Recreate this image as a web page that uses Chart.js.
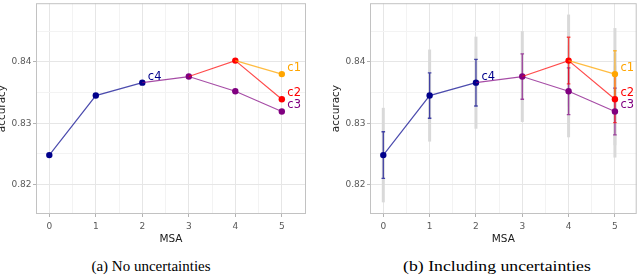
<!DOCTYPE html>
<html>
<head>
<meta charset="utf-8">
<script src="https://cdn.jsdelivr.net/npm/chart.js@4"></script>
<style>
  body { margin: 0; width: 640px; height: 276px; background: #fff; position: relative; overflow: hidden; }
  .panel { position: absolute; top: 0; height: 250px; }
  .cap { position: absolute; top: 258px; font: 15px "Liberation Serif", serif; color: #000; text-align: center; white-space: nowrap; }
</style>
</head>
<body>
<div class="panel" style="left:-14px;width:334px"><canvas id="left"></canvas></div>
<div class="panel" style="left:320px;width:320px"><canvas id="right"></canvas></div>
<div class="cap" style="left:0;width:302px">(a) No uncertainties</div>
<div class="cap" style="left:320px;width:354px;transform:scaleX(1.18);transform-origin:177px 0">(b) Including uncertainties</div>
<script>
// data
var msa = [0, 1, 2, 3, 4, 5];
var c4Acc = [0.8248, 0.8345, 0.8366, null, null, null];
var c3Acc = [null, null, 0.8366, 0.8376, 0.8352, 0.8319];
var c2Acc = [null, null, null, 0.8376, 0.8402, 0.8339];
var c1Acc = [null, null, null, null, 0.8402, 0.8380];

// uncertainties (half widths), coloured = inner, grey = outer
var c4Err = [0.0038, 0.0037, 0.0038, null, null, null];
var c3Err = [null, null, null, 0.0037, 0.0038, 0.0038];
var c2Err = [null, null, null, null, 0.0038, 0.0038];
var c1Err = [null, null, null, null, null, 0.0038];
var c4Wide = [0.0077, 0.0075, 0.0075, null, null, null];
var c3Wide = [null, null, null, 0.0074, 0.0075, 0.0075];
var c2Wide = [null, null, null, null, 0.0075, 0.0075];
var c1Wide = [null, null, null, null, null, 0.0075];

var xTicks = [0, 1, 2, 3, 4, 5];
var yTicks = [0.82, 0.83, 0.84];

var series = [
  { name: 'c1', acc: c1Acc, err: c1Err, wide: c1Wide, color: '#ffa500', line: 'rgba(255,165,0,0.75)', first: 4 },
  { name: 'c2', acc: c2Acc, err: c2Err, wide: c2Wide, color: '#ff0000', line: 'rgba(255,0,0,0.7)', first: 3 },
  { name: 'c3', acc: c3Acc, err: c3Err, wide: c3Wide, color: '#800080', line: 'rgba(128,0,128,0.7)', first: 2 },
  { name: 'c4', acc: c4Acc, err: c4Err, wide: c4Wide, color: '#00008b', line: 'rgba(0,0,139,0.7)', first: -1 }
];
// where the name labels sit
var labelAt = { c1: 5, c2: 5, c3: 5, c4: 2 };

function isMajor(v, step) {
  return Math.abs(v / step - Math.round(v / step)) < 1e-6;
}

// grey panel border
var frame = {
  id: 'frame',
  afterDraw(chart) {
    var a = chart.chartArea, ctx = chart.ctx;
    ctx.save();
    ctx.strokeStyle = '#c2c2c2';
    ctx.lineWidth = 1;
    ctx.strokeRect(a.left + 0.5, a.top + 0.5, a.right - a.left - 1, a.bottom - a.top - 1);
    ctx.restore();
  }
};

// error bars drawn under the lines
var errorBars = {
  id: 'errorBars',
  beforeDatasetsDraw(chart) {
    if (!chart.options.plugins.errorBars.show) return;
    var ctx = chart.ctx, xs = chart.scales.x, ys = chart.scales.y;
    ctx.save();
    // grey wide bars
    ctx.strokeStyle = '#d9d9d9';
    ctx.lineWidth = 3;
    series.forEach(function (s) {
      msa.forEach(function (m, i) {
        if (s.wide[i] == null) return;
        var x = xs.getPixelForValue(m);
        ctx.beginPath();
        ctx.moveTo(x, ys.getPixelForValue(s.acc[i] + s.wide[i]));
        ctx.lineTo(x, ys.getPixelForValue(s.acc[i] - s.wide[i]));
        ctx.stroke();
      });
    });
    // coloured bars with caps
    ctx.lineWidth = 1.3;
    series.slice().reverse().forEach(function (s) {
      ctx.strokeStyle = s.line;
      msa.forEach(function (m, i) {
        if (s.err[i] == null) return;
        var x = xs.getPixelForValue(m);
        var t = ys.getPixelForValue(s.acc[i] + s.err[i]);
        var b = ys.getPixelForValue(s.acc[i] - s.err[i]);
        ctx.beginPath();
        ctx.moveTo(x, t); ctx.lineTo(x, b);
        ctx.moveTo(x - 1.8, t); ctx.lineTo(x + 1.8, t);
        ctx.moveTo(x - 1.8, b); ctx.lineTo(x + 1.8, b);
        ctx.stroke();
      });
    });
    ctx.restore();
  }
};

// c1..c4 names next to the points
var names = {
  id: 'names',
  afterDatasetsDraw(chart) {
    var ctx = chart.ctx, xs = chart.scales.x, ys = chart.scales.y;
    ctx.save();
    ctx.font = '11.5px "DejaVu Sans"';
    ctx.textAlign = 'left';
    ctx.textBaseline = 'middle';
    series.forEach(function (s) {
      var i = labelAt[s.name];
      ctx.fillStyle = s.color;
      ctx.fillText(s.name, xs.getPixelForValue(msa[i]) + 5.5, ys.getPixelForValue(s.acc[i]) - 6);
    });
    ctx.restore();
  }
};

function makePanel(id, yWidth, xMin, xMax, padRight, showErr) {
  var datasets = series.map(function (s) {
    return {
      label: s.name,
      data: msa.map(function (m, i) { return { x: m, y: s.acc[i] }; }),
      borderColor: s.line,
      borderWidth: 1.2,
      backgroundColor: s.color,
      pointBackgroundColor: s.color,
      pointBorderWidth: 0,
      pointRadius: msa.map(function (m, i) { return i === s.first ? 0 : 3.2; }),
      pointHoverRadius: 3.2,
      tension: 0,
      spanGaps: false
    };
  });
  var tickFont = { family: 'DejaVu Sans', size: 9 };
  return new Chart(document.getElementById(id), {
    type: 'line',
    data: { datasets: datasets },
    options: {
      responsive: true,
      maintainAspectRatio: false,
      animation: false,
      events: [],
      layout: { padding: { left: 0, right: padRight, top: 1, bottom: 0 } },
      plugins: {
        legend: { display: false },
        tooltip: { enabled: false },
        errorBars: { show: showErr }
      },
      scales: {
        x: {
          type: 'linear',
          min: xMin,
          max: xMax,
          afterBuildTicks: function (sc) {
            var t = [];
            xTicks.forEach(function (v, i) {
              t.push({ value: v });
              if (i < xTicks.length - 1) t.push({ value: v + 0.5 });
            });
            sc.ticks = t;
          },
          afterFit: function (sc) { sc.height = 36; sc.paddingLeft = 0; sc.paddingRight = 0; },
          ticks: {
            autoSkip: false, maxRotation: 0, padding: 4, color: '#595959', font: tickFont,
            callback: function (v) { return isMajor(v, 1) ? String(v) : ''; }
          },
          grid: {
            color: function (c) { return isMajor(c.tick.value, 1) ? '#e6e6e6' : '#f3f3f3'; },
            tickColor: function (c) { return isMajor(c.tick.value, 1) ? '#b3b3b3' : 'rgba(0,0,0,0)'; },
            tickLength: 3,
            lineWidth: 1
          },
          border: { display: false },
          title: {
            display: true, text: 'MSA', color: '#1a1a1a',
            font: { family: 'DejaVu Sans', size: 10.5 }, padding: { top: 0, bottom: 4.5 }
          }
        },
        y: {
          type: 'linear',
          min: 0.8152,
          max: 0.84955,
          afterBuildTicks: function (sc) {
            var t = [];
            yTicks.forEach(function (v) {
              t.push({ value: v });
              t.push({ value: v + 0.005 });
            });
            sc.ticks = t;
          },
          afterFit: function (sc) { sc.width = yWidth; sc.paddingTop = 0; sc.paddingBottom = 0; },
          ticks: {
            autoSkip: false, padding: 1.5, color: '#595959', font: tickFont,
            callback: function (v) { return isMajor(v, 0.01) ? v.toFixed(2) : ''; }
          },
          grid: {
            color: function (c) { return isMajor(c.tick.value, 0.01) ? '#e6e6e6' : '#f3f3f3'; },
            tickColor: function (c) { return isMajor(c.tick.value, 0.01) ? '#b3b3b3' : 'rgba(0,0,0,0)'; },
            tickLength: 3,
            lineWidth: 1
          },
          border: { display: false },
          title: {
            display: true, text: 'accuracy', color: '#1a1a1a',
            font: { family: 'DejaVu Sans', size: 10.5 }, padding: { top: 10, bottom: 0 }
          }
        }
      }
    },
    plugins: [frame, errorBars, names]
  });
}

makePanel('left', 50, -0.286, 5.52, 14, false);
makePanel('right', 50, -0.287, 5.47, 3.3, true);
</script>
</body>
</html>
